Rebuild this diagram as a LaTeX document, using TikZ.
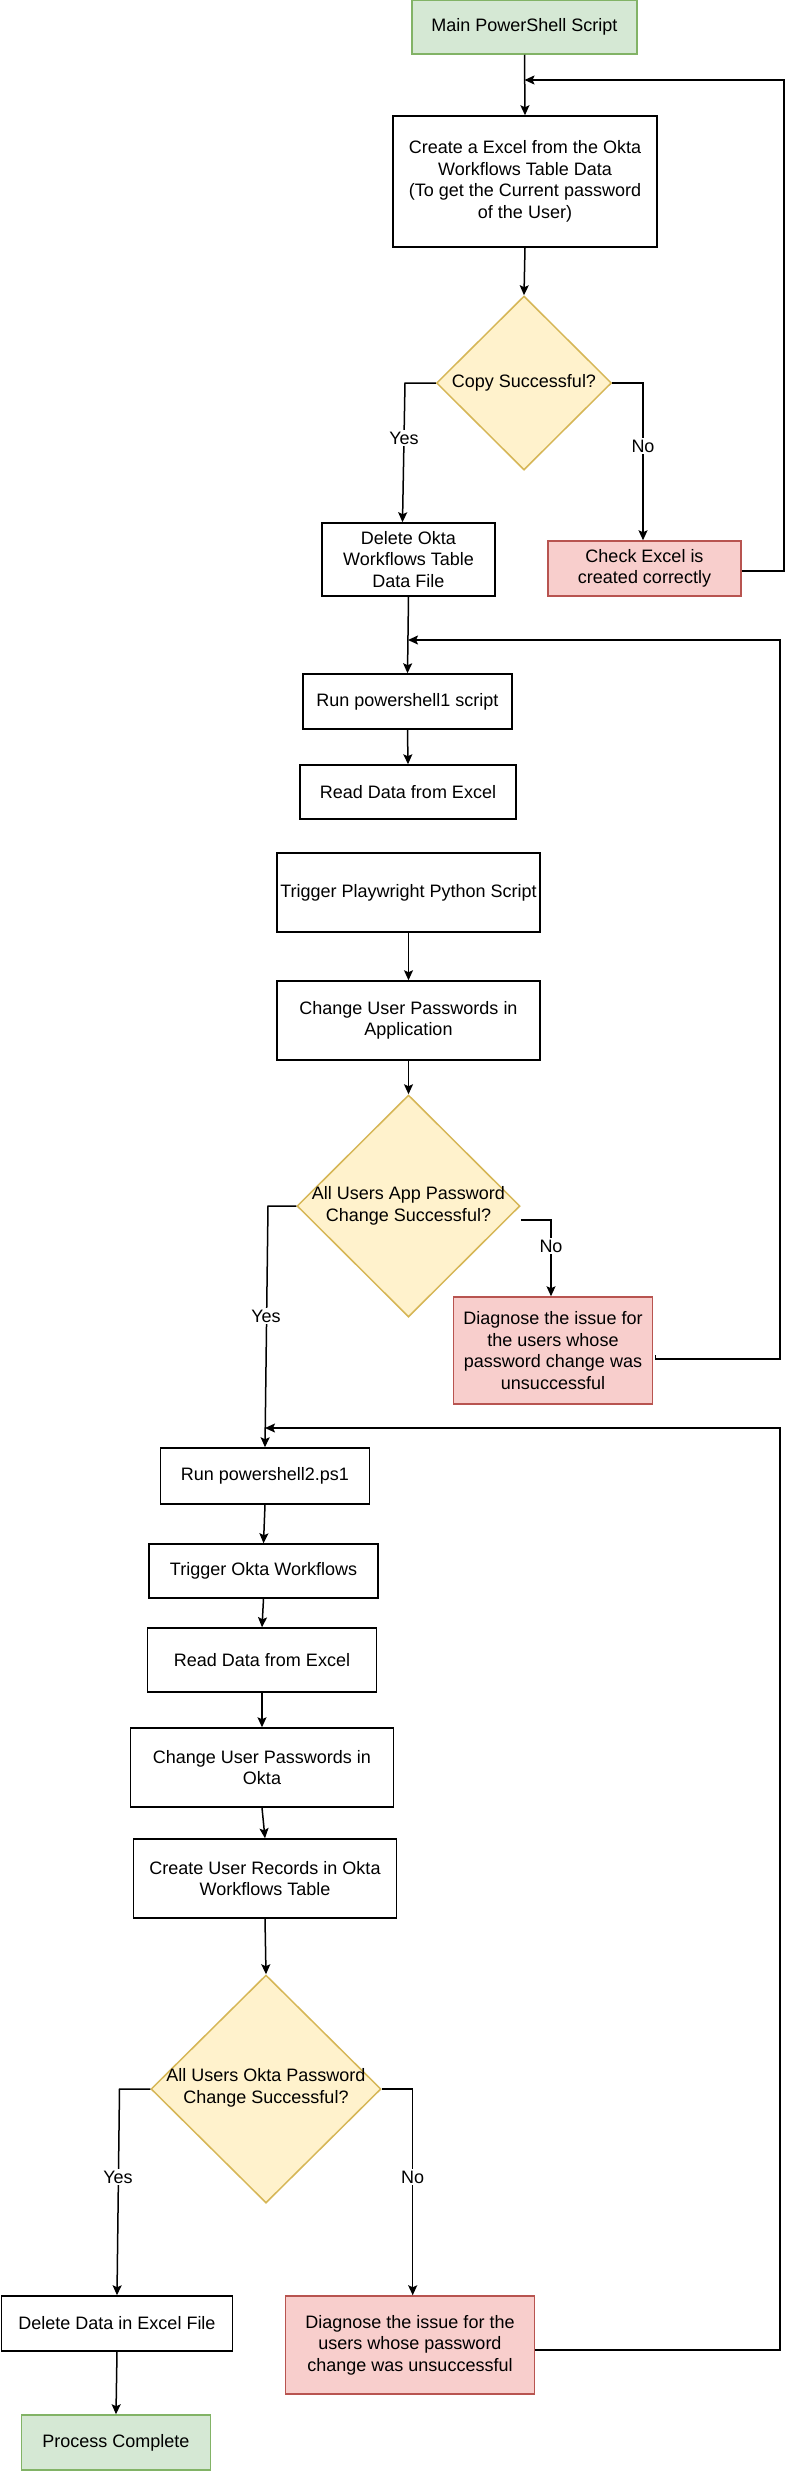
\documentclass[tikz,border=0pt]{standalone}
\usepackage{fontspec}
\setmainfont{Liberation Sans}
\usetikzlibrary{shapes.geometric,arrows.meta}
\definecolor{gfill}{HTML}{D5E8D4}
\definecolor{gline}{HTML}{82B366}
\definecolor{yfill}{HTML}{FFF2CC}
\definecolor{yline}{HTML}{D6B656}
\definecolor{rfill}{HTML}{F8CECC}
\definecolor{rline}{HTML}{B85450}
\tikzset{
  every node/.style={font=\fontsize{18}{21.6}\selectfont, align=center, inner sep=0pt},
  proc/.style={draw=black, line width=1.5pt, fill=white},
  gbox/.style={draw=gline, fill=gfill, line width=1.5pt},
  rbox/.style={draw=rline, fill=rfill, line width=1.5pt},
  dec/.style={diamond, draw=yline, fill=yfill, line width=1.5pt},
  arr/.style={draw=black, line width=1.5pt, -{Stealth[length=10pt,width=9pt,inset=2pt]}},
  lab/.style={fill=white, inner sep=1.5pt}
}
\begin{document}
\begin{tikzpicture}[x=1pt,y=-1pt]
\useasboundingbox[fill=white] (0,0) rectangle (786,2471);

% nodes
\node[gbox, minimum width=225pt, minimum height=54pt] (main) at (524.5,27) {Main PowerShell Script};
\node[proc, minimum width=264pt, minimum height=131pt] (create) at (525,181.5) {Create a Excel from the Okta\\Workflows Table Data\\(To get the Current password\\of the User)};
\node[dec, minimum width=175pt, minimum height=174pt] (copy) at (524,383) {};
\node (copyt) at (copy) {Copy Successful?};
\node[proc, minimum width=173pt, minimum height=73pt] (delete1) at (408.5,559.5) {Delete Okta\\Workflows Table\\Data File};
\node[rbox, minimum width=193pt, minimum height=55pt] (check) at (644.5,568.5) {Check Excel is\\created correctly};
\node[proc, minimum width=209pt, minimum height=55pt] (run1) at (407.5,701.5) {Run powershell1 script};
\node[proc, minimum width=216pt, minimum height=54pt] (read1) at (408,792) {Read Data from Excel};
\node[proc, minimum width=263pt, minimum height=79pt] (trigger) at (408.5,892.5) {Trigger Playwright Python Script};
\node[proc, minimum width=263pt, minimum height=79pt] (change1) at (408.5,1020.5) {Change User Passwords in\\Application};
\node[dec, minimum width=223pt, minimum height=222pt] (d2) at (408.5,1206) {};
\node (d2t) at (d2) {All Users App Password\\Change Successful?};
\node[rbox, minimum width=199pt, minimum height=107pt] (diag1) at (553,1350.5) {Diagnose the issue for\\the users whose\\password change was\\unsuccessful};
\node[proc, minimum width=209pt, minimum height=56pt] (run2) at (265,1476) {Run powershell2.ps1};
\node[proc, minimum width=229pt, minimum height=54pt] (trigok) at (263.5,1571) {Trigger Okta Workflows};
\node[proc, minimum width=229pt, minimum height=64pt] (read2) at (262,1660) {Read Data from Excel};
\node[proc, minimum width=263pt, minimum height=79pt] (change2) at (262,1767.5) {Change User Passwords in\\Okta};
\node[proc, minimum width=263pt, minimum height=79pt] (create2) at (265,1878.5) {Create User Records in Okta\\Workflows Table};
\node[dec, minimum width=230pt, minimum height=228pt] (d3) at (266,2089) {};
\node (d3t) at (266,2088) {All Users Okta Password\\Change Successful?};
\node[proc, minimum width=231pt, minimum height=55pt] (delete2) at (117,2323.5) {Delete Data in Excel File};
\node[gbox, minimum width=189pt, minimum height=55pt] (done) at (116,2442.5) {Process Complete};
\node[rbox, minimum width=249pt, minimum height=98pt] (diag2) at (410,2345) {Diagnose the issue for the\\users whose password\\change was unsuccessful};

% junction points of the loops
\coordinate (j1) at (524.5,80);
\coordinate (j2) at (408,640);
\coordinate (j3) at (265,1428);

% connectors
\draw[arr] (main.south) -- (create.north);
\draw[arr] (create.south) -- (copy.north);
\draw[arr] (copy.west) -- (405,383) -- ([xshift=-6pt]delete1.north);
\node[lab] (yes1) at (404,438) {Yes};
\draw[arr] (copy.east) -| ([xshift=-1.5pt]check.north);
\node[lab] (no1) at (643,446) {No};
\draw[arr] ([yshift=-2.5pt]check.east) -- (784,571) -- (784,80) -- (j1);

\draw[arr] (delete1.south) -- (run1.north);
\draw[arr] (run1.south) -- (read1.north);
\draw[arr] (trigger.south) -- (change1.north);
\draw[arr] (change1.south) -- (d2.north);
\draw[arr] (d2.west) -- (268,1206) -- (run2.north);
\node[lab] (yes2) at (266,1316) {Yes};
\draw[arr] ([yshift=-14pt]d2.east) -| ([xshift=-2pt]diag1.north);
\node[lab] (no2) at (551,1246) {No};
\draw[arr] ([xshift=2pt,yshift=-4.5pt]diag1.east) -- ++(0,4) -- (780,1359) -- (780,640) -- (j2);

\draw[arr] (run2.south) -- (trigok.north);
\draw[arr] (trigok.south) -- (read2.north);
\draw[arr] (read2.south) -- (change2.north);
\draw[arr] (change2.south) -- (create2.north);
\draw[arr] (create2.south) -- (d3.north);
\draw[arr] (d3.west) -- (119.5,2089) -- (delete2.north);
\node[lab] (yes3) at (118,2177) {Yes};
\draw[arr] (d3.east) -| ([xshift=2.7pt]diag2.north);
\node[lab] (no3) at (412.7,2177) {No};
\draw[arr] ([yshift=-5pt]diag2.east) -- (780,2350) -- (780,1428) -- (j3);
\draw[arr] (delete2.south) -- (done.north);
\end{tikzpicture}
\end{document}
